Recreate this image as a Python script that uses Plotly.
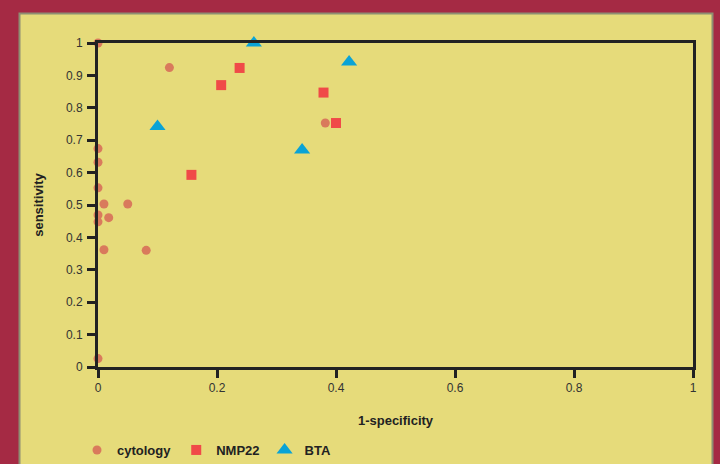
import plotly.graph_objects as go

# Data
cyto_x = [0.0, 0.12, 0.382, 0.0, 0.0, 0.0, 0.01, 0.05, 0.0, 0.0, 0.018, 0.01, 0.081, 0.0]
cyto_y = [1.0, 0.924, 0.753, 0.674, 0.632, 0.553, 0.503, 0.503, 0.469, 0.448, 0.461, 0.362, 0.360, 0.026]

nmp_x = [0.238, 0.207, 0.379, 0.400, 0.157]
nmp_y = [0.923, 0.870, 0.847, 0.753, 0.593]

bta_x = [0.262, 0.422, 0.100, 0.343]
bta_y = [1.000, 0.941, 0.742, 0.670]

tick_vals = [0, 0.2, 0.4, 0.6, 0.8, 1]
y_tick_vals = [0, 0.1, 0.2, 0.3, 0.4, 0.5, 0.6, 0.7, 0.8, 0.9, 1]

MAROON = "#A52A44"
PANEL = "#E6DB7A"
FONT = "Liberation Sans, Arial, sans-serif"

fig = go.Figure()
fig.add_trace(go.Scatter(x=cyto_x, y=cyto_y, mode="markers", name="cytology",
                         marker=dict(symbol="circle", size=9, color="#D97A5C"),
                         cliponaxis=False))
fig.add_trace(go.Scatter(x=nmp_x, y=nmp_y, mode="markers", name="NMP22",
                         marker=dict(symbol="square", size=10, color="#F04A48"),
                         cliponaxis=False))
fig.add_trace(go.Scatter(x=bta_x, y=bta_y, mode="markers", name="BTA",
                         marker=dict(symbol="triangle-up", size=14, color="#0AA3D6"),
                         cliponaxis=False))

L, R, T, B = 98, 27, 43, 97
W, H = 720, 464
pw, ph = W - L - R, H - T - B

def px_to_paper_x(px):
    return (px - L) / pw

def px_to_paper_y(py):
    return (H - B - py) / ph

fig.add_shape(type="rect", xref="paper", yref="paper", layer="below",
              x0=px_to_paper_x(19.5), x1=px_to_paper_x(712.5),
              y0=px_to_paper_y(480), y1=px_to_paper_y(13.5),
              fillcolor=PANEL, line=dict(color="#8E8E72", width=2))

axis_common = dict(showgrid=False, zeroline=False, showline=True, linewidth=3,
                   linecolor="#222222", mirror=True, ticks="outside", ticklen=8,
                   tickwidth=3, tickcolor="#222222",
                   tickfont=dict(family=FONT, size=12, color="#333333"))

fig.update_xaxes(range=[0, 1], tickvals=tick_vals, ticktext=["0", "0.2", "0.4", "0.6", "0.8", "1"],
                 title=dict(text="<b>1-specificity</b>", standoff=22,
                            font=dict(family=FONT, size=13, color="#222222")),
                 **axis_common)
fig.update_yaxes(range=[0, 1], tickvals=y_tick_vals,
                 ticktext=["0", "0.1", "0.2", "0.3", "0.4", "0.5", "0.6", "0.7", "0.8", "0.9", "1"],
                 ticklabelstandoff=2,
                 title=dict(text="<b>sensitivity</b>", standoff=20,
                            font=dict(family=FONT, size=13, color="#222222")),
                 **axis_common)

fig.update_layout(
    width=W, height=H,
    margin=dict(l=L, r=R, t=T, b=B, autoexpand=False),
    paper_bgcolor=MAROON,
    plot_bgcolor=PANEL,
    showlegend=True,
    legend=dict(orientation="h", x=px_to_paper_x(77), y=px_to_paper_y(450),
                xanchor="left", yanchor="middle", bgcolor="rgba(0,0,0,0)",
                font=dict(family=FONT, size=13, color="#222222", weight="bold"),
                itemwidth=30, tracegroupgap=0),
    font=dict(family=FONT),
)

fig.write_html("out.html", config={"displayModeBar": False},
               post_script="document.body.style.margin='0';document.body.style.overflow='hidden';")
